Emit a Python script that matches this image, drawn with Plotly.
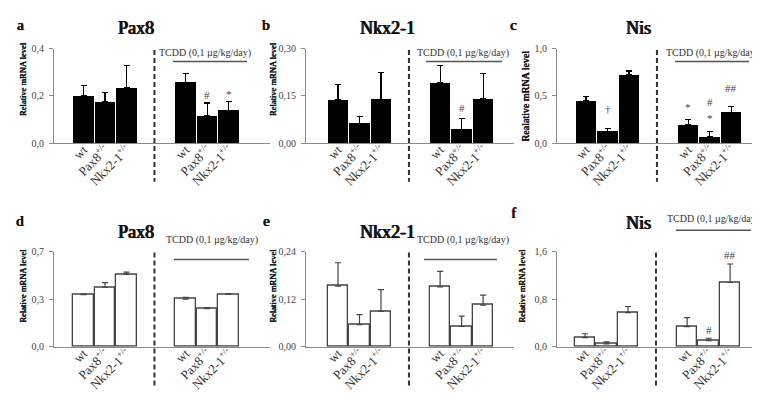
import plotly.graph_objects as go

W, H = 760, 400
FONT = "Liberation Serif"

# ---------------- data ----------------
groups = ["wt", "Pax8<sup>+/-</sup>", "Nkx2-1<sup>+/-</sup>"]
categories = groups + groups          # control block, then TCDD block
tcdd_label = "TCDD (0,1 µg/kg/day)"

# top row (black bars)
pax8_top = [0.202, 0.174, 0.236, 0.258, 0.117, 0.139]
pax8_top_sem = [0.041, 0.041, 0.092, 0.038, 0.053, 0.038]
nkx_top = [0.137, 0.063, 0.139, 0.192, 0.044, 0.142]
nkx_top_sem = [0.050, 0.022, 0.086, 0.056, 0.033, 0.080]
nis_top = [0.447, 0.124, 0.725, 0.191, 0.067, 0.328]
nis_top_sem = [0.045, 0.034, 0.041, 0.055, 0.055, 0.060]

# bottom row (white bars)
pax8_bot = [0.384, 0.438, 0.533, 0.351, 0.280, 0.387]
pax8_bot_sem = [0.003, 0.034, 0.016, 0.012, 0.008, 0.004]
nkx_bot = [0.153, 0.056, 0.089, 0.151, 0.051, 0.105]
nkx_bot_sem = [0.059, 0.025, 0.055, 0.039, 0.026, 0.025]
nis_bot = [0.153, 0.049, 0.573, 0.339, 0.104, 1.081]
nis_bot_sem = [0.065, 0.033, 0.104, 0.152, 0.038, 0.311]

# y tick labels
ticks_a = ([0, 0.2, 0.4], ["0,0", "0,2", "0,4"])
ticks_b = ([0, 0.15, 0.30], ["0,00", "0,15", "0,30"])
ticks_c = ([0, 0.5, 1.0], ["0,0", "0,5", "1,0"])
ticks_d = ([0, 0.35, 0.7], ["0,0", "0,3", "0,7"])
ticks_e = ([0, 0.12, 0.24], ["0,00", "0,12", "0,24"])
ticks_f = ([0, 0.8, 1.6], ["0,0", "0,8", "1,6"])

# significance marks: (panel, bar index, text, pixel offset above error bar)
marks = [
    (0, 4, "#", 8), (0, 5, "*", 7.5),
    (1, 4, "#", 11),
    (2, 1, "†", 19), (2, 3, "*", 13), (2, 4, "#", 30), (2, 4, "*", 13.5), (2, 5, "##", 18),
    (5, 4, "#", 8.5), (5, 5, "##", 9),
]

# ---------------- layout helpers ----------------
def px(x):
    return x / W

def py(y):
    return 1 - y / H

slot = 21.5
positions = [0, 1, 2, 4.75, 5.75, 6.75]
dash_x = 3.3

panels = [
    dict(letter="a", title="Pax8", ytitle="Relative mRNA level", y=pax8_top, e=pax8_top_sem,
         rng=0.4, ticks=ticks_a, dom=(46, 262), c0=75.5, row=0, fill="black"),
    dict(letter="b", title="Nkx2-1", ytitle="Relative mRNA level", y=nkx_top, e=nkx_top_sem,
         rng=0.30, ticks=ticks_b, dom=(298, 506), c0=330, row=0, fill="black"),
    dict(letter="c", title="Nis", ytitle="Realative mRNA level", y=nis_top, e=nis_top_sem,
         rng=1.0, ticks=ticks_c, dom=(549, 758), c0=578, row=0, fill="black"),
    dict(letter="d", title="Pax8", ytitle="Relative mRNA level", y=pax8_bot, e=pax8_bot_sem,
         rng=0.7, ticks=ticks_d, dom=(46, 262), c0=75.5, row=1, fill="white"),
    dict(letter="e", title="Nkx2-1", ytitle="Relative mRNA level", y=nkx_bot, e=nkx_bot_sem,
         rng=0.24, ticks=ticks_e, dom=(298, 506), c0=330, row=1, fill="white"),
    dict(letter="f", title="Nis", ytitle="Relative mRNA level", y=nis_bot, e=nis_bot_sem,
         rng=1.6, ticks=ticks_f, dom=(549, 758), c0=577, row=1, fill="white"),
]

row_y = [(36, 133), (245, 343)]

# per-panel text positions (px)
title_pos = [(128, 14), (379, 14), (630, 14), (128, 225), (379, 225), (630, 215)]
letter_pos = [(12, 11), (258, 11), (505, 11), (12, 213), (258, 213), (505, 205)]
ytitle_pos = [(15, 67, 8.5), (265, 67, 8.5), (517, 85, 10), (15, 280, 8.5), (265, 280, 8.5), (514, 280, 8.5)]
tcdd_text = [(197, 40), (455, 40), (704, 40), (204, 233), (455, 233), (705, 211)]
tcdd_line = [(165, 239, 49), (418, 494, 49), (667, 741, 49), (166, 241, 253), (416, 489, 253), (668, 743, 223)]

def bold_font(size, amt):
    return dict(family=FONT, size=size, color="#111",
                shadow="%spx 0px 0px #111, %spx 0px 0px #111" % (amt, -amt / 2))

fig = go.Figure()
layout = dict(width=W, height=H, margin=dict(l=0, r=0, t=0, b=0),
              plot_bgcolor="white", paper_bgcolor="white", showlegend=False,
              font=dict(family=FONT, color="#333"), bargap=0)
annotations = []
shapes = []

for i, p in enumerate(panels):
    k = "" if i == 0 else str(i + 1)
    xa, ya = "x" + k, "y" + k
    x0, x1 = p["dom"]
    top, bot = row_y[p["row"]]
    if p["fill"] == "black":
        marker = dict(color="black", line=dict(width=0))
        ecol = "black"
    else:
        marker = dict(color="white", line=dict(color="#444", width=1.3))
        ecol = "#444"
    fig.add_trace(go.Bar(
        x=positions, y=p["y"], xaxis=xa, yaxis=ya, width=0.95, marker=marker,
        error_y=dict(type="data", symmetric=False, array=p["e"], arrayminus=[0] * 6,
                     color=ecol, thickness=1.2, width=3),
        hoverinfo="skip"))
    layout["xaxis" + k] = dict(
        domain=[px(x0), px(x1)], anchor=ya,
        range=[(x0 - p["c0"]) / slot, (x1 - p["c0"]) / slot],
        showline=True, linecolor="#8a8a8a", linewidth=1, ticks="", showgrid=False, zeroline=False,
        tickvals=positions, ticktext=categories, tickangle=-45, ticklabelstandoff=-7,
        tickfont=dict(family=FONT, size=13, color="#333"), fixedrange=True)
    layout["yaxis" + k] = dict(
        domain=[py(bot), py(top)], anchor=xa, range=[0, p["rng"]],
        showline=True, linecolor="#8a8a8a", linewidth=1, ticks="outside", ticklen=4,
        tickcolor="#8a8a8a", showgrid=False, zeroline=False, ticklabelstandoff=3,
        tickvals=p["ticks"][0], ticktext=p["ticks"][1],
        tickfont=dict(family=FONT, size=10, color="#444"), fixedrange=True)

    shapes.append(dict(type="line", xref=xa, yref="paper", x0=dash_x, x1=dash_x,
                       y0=py(top + 1), y1=py(bot + 40),
                       line=dict(color="#333", width=2, dash="5px,3px")))
    lx0, lx1, ly = tcdd_line[i]
    shapes.append(dict(type="line", xref="paper", yref="paper", x0=px(lx0), x1=px(lx1),
                       y0=py(ly), y1=py(ly), line=dict(color="#555", width=1.5)))
    tx, ty = tcdd_text[i]
    annotations.append(dict(text=tcdd_label, x=px(tx), y=py(ty), xref="paper", yref="paper",
                            showarrow=False, xanchor="center", yanchor="middle",
                            font=dict(family=FONT, size=10, color="#333")))
    tx, ty = title_pos[i]
    annotations.append(dict(text=p["title"], x=px(tx), y=py(ty), xref="paper",
                            yref="paper", showarrow=False, xanchor="center", yanchor="middle",
                            font=bold_font(18, 0.8)))
    tx, ty = letter_pos[i]
    annotations.append(dict(text=p["letter"], x=px(tx), y=py(ty), xref="paper",
                            yref="paper", showarrow=False, xanchor="center", yanchor="middle",
                            font=bold_font(15, 0.7)))
    tx, ty, fs = ytitle_pos[i]
    annotations.append(dict(text=p["ytitle"], x=px(tx), y=py(ty), xref="paper",
                            yref="paper", showarrow=False, textangle=-90, xanchor="center",
                            yanchor="middle", font=bold_font(fs, 0.4)))

for (pi, bi, txt, off) in marks:
    p = panels[pi]
    k = "" if pi == 0 else str(pi + 1)
    annotations.append(dict(text=txt, x=positions[bi], y=p["y"][bi] + p["e"][bi],
                            xref="x" + k, yref="y" + k, showarrow=False, xanchor="center",
                            yanchor="middle", yshift=off,
                            font=dict(family=FONT, size=11, color="#444")))

layout["annotations"] = annotations
layout["shapes"] = shapes
fig.update_layout(**layout)
fig.write_html("out.html")
